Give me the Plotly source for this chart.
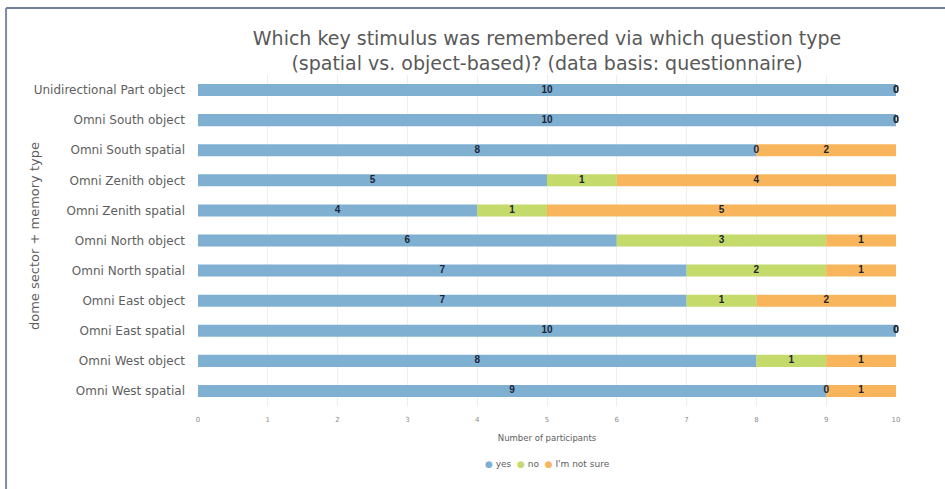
import plotly.graph_objects as go

categories = ["Unidirectional Part object", "Omni South object", "Omni South spatial",
              "Omni Zenith object", "Omni Zenith spatial", "Omni North object",
              "Omni North spatial", "Omni East object", "Omni East spatial",
              "Omni West object", "Omni West spatial"]
yes = [10, 10, 8, 5, 4, 6, 7, 7, 10, 8, 9]
no = [0, 0, 0, 1, 1, 3, 2, 1, 0, 1, 0]
not_sure = [0, 0, 2, 4, 5, 1, 1, 2, 0, 1, 1]
series_names = ["yes", "no", "I'm not sure"]
colors = ["#7FB0D2", "#C4DA6A", "#F8B55C"]
x_ticks = list(range(0, 11))

series = [yes, no, not_sure]
fig = go.Figure()
starts = [0] * len(categories)
for name, vals, col in zip(series_names, series, colors):
    fig.add_trace(go.Bar(y=categories, x=vals, base=starts, orientation="h", name=name,
                         marker=dict(color=col, line=dict(width=0)), showlegend=False,
                         hoverinfo="x+name"))
    centers = [s + v / 2 for s, v in zip(starts, vals)]
    fig.add_trace(go.Scatter(y=categories, x=centers, mode="text",
                             text=["<b>%d</b>" % v for v in vals], cliponaxis=False,
                             textfont=dict(size=10, color="#1C2535", family="Liberation Sans"),
                             showlegend=False, hoverinfo="skip"))
    starts = [s + v for s, v in zip(starts, vals)]

legend_text = "&nbsp;&nbsp;".join(
    "<span style='color:%s'>●</span> %s" % (c, n) for n, c in zip(series_names, colors))

fig.update_layout(
    width=945, height=489,
    margin=dict(l=198, r=49, t=75, b=83),
    paper_bgcolor="white", plot_bgcolor="white",
    font=dict(family="DejaVu Sans", color="#5E5E5E"),
    barmode="overlay", bargap=0.6, showlegend=False,
    title=dict(text="Which key stimulus was remembered via which question type<br>(spatial vs. object-based)? (data basis: questionnaire)",
               x=0.5, xref="paper", xanchor="center", yref="container", y=1 - 45 / 489, yanchor="top",
               font=dict(size=19, color="#595959")),
    xaxis=dict(range=[0, 10], tickvals=x_ticks, showgrid=True, gridcolor="#EEEEEE",
               zeroline=False, automargin=False, ticklabelstandoff=8,
               tickfont=dict(size=7, color="#8C8C8C"),
               title=dict(text="Number of participants", font=dict(size=8.5, color="#5E5E5E"), standoff=12)),
    yaxis=dict(categoryorder="array", categoryarray=categories[::-1], autorange=False,
               range=[-0.5, 10.5], showgrid=False, ticks="", ticklabelstandoff=12, automargin=False,
               tickfont=dict(size=12, color="#5E5E5E")),
    annotations=[
        dict(text=legend_text, xref="paper", yref="paper", x=0.5, y=(406 - 464) / 331,
             xanchor="center", yanchor="middle", showarrow=False,
             font=dict(size=9, color="#5E5E5E")),
        dict(text="dome sector + memory type", xref="paper", yref="paper",
             x=(35 - 198) / 698, y=(406 - 236) / 331, textangle=-90,
             xanchor="center", yanchor="middle", showarrow=False,
             font=dict(size=13, color="#5E5E5E")),
    ],
    shapes=[
        dict(type="line", xref="paper", yref="paper", x0=-0.275, x1=1.1, y0=1.2024, y1=1.2024,
             line=dict(color="#6F7E9C", width=2)),
        dict(type="line", xref="paper", yref="paper", x0=-0.275, x1=-0.275, y0=-0.26, y1=1.2024,
             line=dict(color="#7D8BA8", width=2)),
    ],
)

fig.write_html("out.html")
